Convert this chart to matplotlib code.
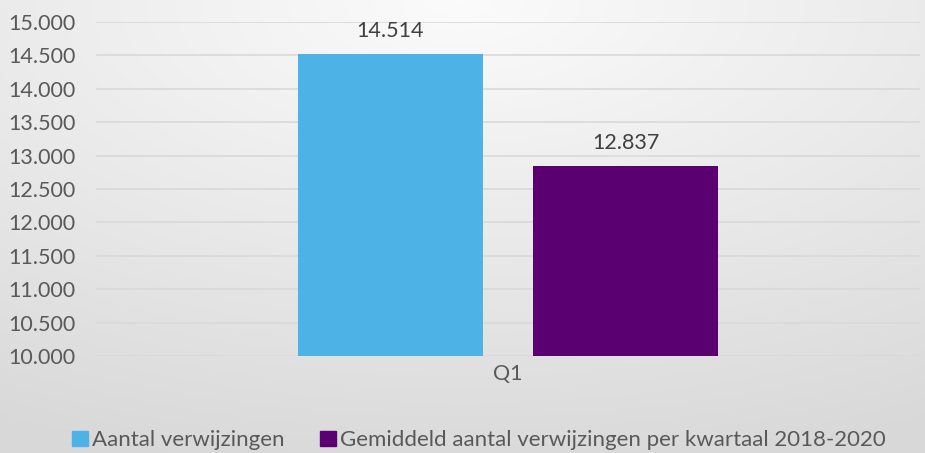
import numpy as np
import matplotlib
matplotlib.use("Agg")
from matplotlib import pyplot as plt
from matplotlib.patches import Patch

plt.rcParams['font.family'] = ['Lato', 'DejaVu Sans']

categories = ["Q1"]
series_names = ["Aantal verwijzingen",
                "Gemiddeld aantal verwijzingen per kwartaal 2018-2020"]
series_values = [[14514], [12837]]
series_colors = ["#4db3e6", "#5b0070"]
y_ticks = list(range(10000, 15001, 500))


def dutch(v):
    return f"{v:,.0f}".replace(",", ".")


fig = plt.figure(figsize=(9.25, 4.53), dpi=100)

# radial gradient background (light at top centre, grey at the bottom)
bg = fig.add_axes([0, 0, 1, 1], zorder=-10)
yy, xx = np.mgrid[0:1:300j, 0:1:600j]
r = np.sqrt((xx - 0.5) ** 2 + yy ** 2)
r = np.clip(r / 1.05, 0, 1)
top = np.array([0.985, 0.985, 0.985])
bot = np.array([0.85, 0.85, 0.85])
img = top[None, None, :] * (1 - r[..., None]) + bot[None, None, :] * r[..., None]
bg.imshow(img, aspect="auto", extent=[0, 1, 1, 0])
bg.axis("off")

ax = fig.add_axes([96 / 925, 1 - 356 / 453, 824 / 925, (356 - 22) / 453])
ax.set_facecolor("none")

x = np.arange(len(categories))
width = 0.2245
offsets = [-0.1426, 0.1426]
for name, vals, col, off in zip(series_names, series_values, series_colors, offsets):
    bars = ax.bar(x + off, vals, width, color=col, label=name, zorder=3)
    for b, v in zip(bars, vals):
        ax.annotate(dutch(v), (b.get_x() + b.get_width() / 2, v),
                    xytext=(0, 10), textcoords="offset points",
                    ha="center", va="bottom", fontsize=15.5, color="#404040")

ax.set_xlim(-0.5, 0.5)
ax.set_ylim(10000, 15000)
ax.set_yticks(y_ticks)
ax.set_yticklabels([dutch(t) for t in y_ticks])
ax.set_xticks(x)
ax.set_xticklabels(categories)
ax.tick_params(axis="both", length=0, labelsize=15.5, colors="#595959")
ax.tick_params(axis="x", pad=6)
ax.tick_params(axis="y", pad=0)
for lbl in ax.get_yticklabels():
    lbl.set_horizontalalignment("left")
    lbl.set_x(-88 / 824)
ax.yaxis.grid(True, color="#d9d9d9", linewidth=1.2, zorder=0)
for s in ax.spines.values():
    s.set_visible(False)

handles = [Patch(color=c, label=n) for n, c in zip(series_names, series_colors)]
fig.legend(handles=handles, loc="lower center", bbox_to_anchor=(0.518, -0.038),
           ncol=2, frameon=False, fontsize=16, labelcolor="#595959",
           handlelength=0.7, handleheight=0.7, handletextpad=0.2,
           columnspacing=1.6)

fig.savefig("out.png", dpi=100)
